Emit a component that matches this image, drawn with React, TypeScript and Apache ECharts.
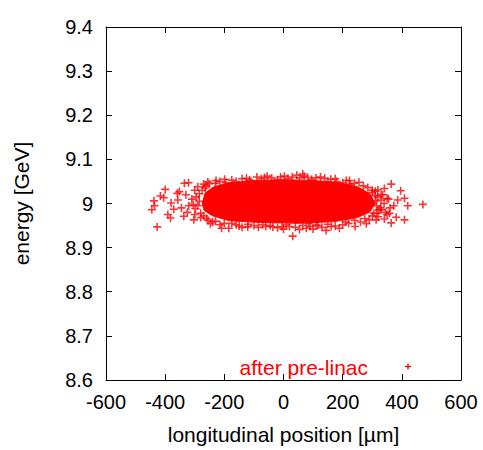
import React, { useEffect, useRef } from "react";
import * as echarts from "echarts";

const xTicks = [-600, -400, -200, 0, 200, 400, 600];
const yTicks = [8.6, 8.7, 8.8, 8.9, 9.0, 9.1, 9.2, 9.3, 9.4];
const seriesName = "after pre-linac";

// outline of the solid (saturated) core of the bunch [position µm, energy GeV]
const coreOutline: [number, number][] = [
  [-275, 9.0], [-265, 9.024], [-235, 9.038], [-183, 9.047], [-98, 9.052], [3, 9.054],
  [105, 9.052], [189, 9.047], [250, 9.038], [292, 9.022], [310, 9.0], [292, 8.981],
  [250, 8.968], [172, 8.959], [54, 8.955], [-81, 8.957], [-183, 8.961], [-240, 8.972],
  [-268, 8.984],
];

// individual macro-particles read around the core
const particles: [number, number][] = [
  [-400, 9.032], [-416, 9.017], [-405, 9.013], [-438, 9.006], [-436, 8.995], [-445, 8.986],
  [-427, 8.947], [-391, 8.975], [-382, 8.967], [-359, 9.023], [-352, 9.027], [-335, 9.046],
  [-321, 9.047], [-337, 8.971], [-303, 8.963], [-247, 8.954], [-209, 8.944], [-185, 8.944],
  [-256, 9.049], [-228, 9.052], [-199, 9.055], [-380, 9.001], [-371, 8.987], [-357, 9.008],
  [3, 9.062], [65, 9.067], [82, 9.059], [-64, 9.059], [-115, 9.053], [139, 9.057],
  [212, 9.052], [31, 8.926], [-121, 8.947], [-36, 8.947], [54, 8.941], [77, 8.944],
  [116, 8.95], [144, 8.939], [161, 8.948], [189, 8.944], [223, 9.052], [364, 9.044],
  [396, 9.029], [341, 9.034], [319, 9.031], [409, 9.012], [420, 8.995], [471, 8.998],
  [409, 8.963], [364, 8.956], [381, 8.969], [242, 8.948], [280, 8.954], [313, 8.963],
  [341, 8.965], [358, 8.978], [330, 8.986], [386, 9.008], [373, 8.995],
  [-290, 9.038], [-270, 9.044], [-230, 9.046], [-160, 9.05], [-140, 9.056], [-90, 9.06],
  [-40, 9.058], [-20, 9.054], [30, 9.06], [45, 9.064], [110, 9.058], [160, 9.055],
  [180, 9.05], [240, 9.046], [270, 9.04], [300, 9.03], [330, 9.02], [350, 9.012],
  [-300, 8.975], [-280, 8.968], [-230, 8.96], [-200, 8.955], [-160, 8.952], [-140, 8.946],
  [-100, 8.95], [-60, 8.948], [-20, 8.945], [0, 8.942], [20, 8.948], [90, 8.948],
  [100, 8.942], [130, 8.946], [200, 8.952], [220, 8.955], [260, 8.958], [290, 8.963],
  [320, 8.97], [345, 8.98], [-330, 9.02], [-320, 8.995], [-345, 8.99], [-310, 9.01],
  [-325, 8.98], [-300, 9.03], [340, 9.0], [355, 9.01], [360, 8.99], [335, 9.02], [350, 8.975],
  [-265, 9.035], [-250, 9.045], [-215, 9.05], [-195, 9.047], [-175, 9.053], [-125, 9.057],
  [-110, 9.05], [-75, 9.056], [-55, 9.062], [-10, 9.06], [15, 9.057], [55, 9.058],
  [70, 9.062], [95, 9.055], [125, 9.06], [150, 9.05], [175, 9.056], [200, 9.047],
  [225, 9.044], [255, 9.048], [285, 9.036], [310, 9.028],
  [-270, 8.972], [-255, 8.962], [-240, 8.958], [-215, 8.952], [-175, 8.955], [-150, 8.949],
  [-120, 8.953], [-85, 8.946], [-70, 8.952], [-45, 8.95], [-5, 8.948], [10, 8.952],
  [40, 8.946], [65, 8.95], [85, 8.955], [110, 8.951], [150, 8.953], [175, 8.949],
  [210, 8.958], [240, 8.962], [275, 8.966], [300, 8.972], [315, 8.978],
  [-295, 9.015], [-305, 8.998], [-298, 8.988], [-285, 9.022], [330, 9.008], [328, 8.99],
  [318, 9.015], [322, 8.985],
  [-285, 9.005], [-290, 8.995], [-280, 8.978], [-275, 9.03], [-260, 8.966], [-262, 9.04],
  [310, 9.018], [315, 8.995], [305, 8.978], [300, 9.025], [312, 9.006],
];

const RED = "#ff0000";
const FONT = "Liberation Sans";
const PLUS = "path://M0,5L10,5M5,0L5,10";

export default function App() {
  const ref = useRef<HTMLDivElement>(null);
  useEffect(() => {
    const chart = echarts.init(ref.current!, null, { renderer: "svg" });
    const baseAxis = {
      axisLine: { show: true, onZero: false, lineStyle: { color: "#000", width: 1 } },
      axisTick: { show: true, inside: true, length: 6, lineStyle: { color: "#000" } },
      splitLine: { show: false },
    };
    const tickLabel = { fontFamily: FONT, fontSize: 20, color: "#000", margin: 12 };
    const nameStyle = { fontFamily: FONT, fontSize: 21, color: "#000" };
    chart.setOption({
      animation: false,
      backgroundColor: "#fff",
      grid: { left: 106, right: 22, top: 27, bottom: 67 },
      xAxis: [
        {
          ...baseAxis,
          type: "value",
          min: xTicks[0],
          max: xTicks[xTicks.length - 1],
          interval: 200,
          position: "bottom",
          name: "longitudinal position [µm]",
          nameLocation: "middle",
          nameGap: 44,
          nameTextStyle: nameStyle,
          axisLabel: tickLabel,
        },
        {
          ...baseAxis,
          type: "value",
          min: xTicks[0],
          max: xTicks[xTicks.length - 1],
          interval: 200,
          position: "top",
          axisLabel: { show: false },
        },
      ],
      yAxis: [
        {
          ...baseAxis,
          type: "value",
          min: yTicks[0],
          max: yTicks[yTicks.length - 1],
          interval: 0.1,
          position: "left",
          name: "energy [GeV]",
          nameLocation: "middle",
          nameGap: 74,
          nameTextStyle: nameStyle,
          axisLabel: {
            ...tickLabel,
            margin: 13,
            formatter: (v: number) => String(Math.round(v * 10) / 10),
          },
        },
        {
          ...baseAxis,
          type: "value",
          min: yTicks[0],
          max: yTicks[yTicks.length - 1],
          interval: 0.1,
          position: "right",
          axisLabel: { show: false },
        },
      ],
      series: [
        {
          type: "custom",
          name: seriesName,
          data: [[0, 9]],
          silent: true,
          renderItem: (_p: any, api: any) => ({
            type: "polygon",
            shape: { points: coreOutline.map((pt) => api.coord(pt)) },
            style: { fill: RED, stroke: RED, lineWidth: 1 },
          }),
        },
        {
          type: "scatter",
          name: seriesName,
          data: particles,
          symbol: PLUS,
          symbolSize: 8,
          itemStyle: { color: RED, borderColor: RED, borderWidth: 1.6 },
        },
      ],
      graphic: [
        {
          type: "text",
          x: 368,
          y: 367,
          style: {
            text: seriesName,
            fill: RED,
            fontFamily: FONT,
            fontSize: 21,
            align: "right",
            verticalAlign: "middle",
          },
        },
        {
          type: "line",
          shape: { x1: 405, y1: 366.5, x2: 411, y2: 366.5 },
          style: { stroke: RED, lineWidth: 1.3 },
        },
        {
          type: "line",
          shape: { x1: 408, y1: 363.5, x2: 408, y2: 369.5 },
          style: { stroke: RED, lineWidth: 1.3 },
        },
      ],
    });
    return () => chart.dispose();
  }, []);
  return <div ref={ref} style={{ width: 483, height: 450, position: "absolute", left: 0, top: 0 }} />;
}
